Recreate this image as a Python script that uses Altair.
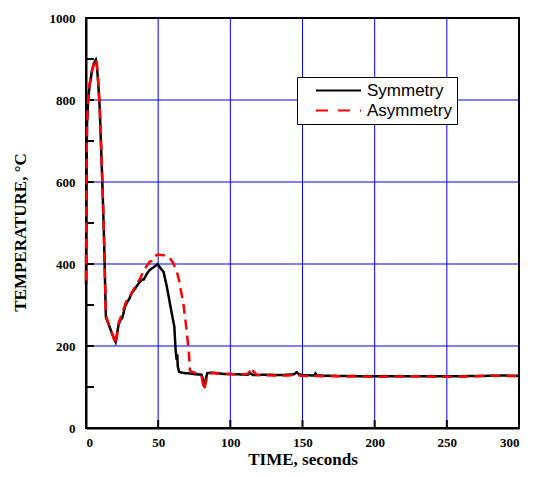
import altair as alt
import pandas as pd

# ---- data ----
sym_t = [0, 0.3, 0.7, 1.5, 2.5, 4, 5.5, 6.8, 7.5, 8.5, 9.5, 10.5, 11.5, 12.5, 13.3, 13.8,
         16, 18, 20.5, 21.5, 22.5, 23.5, 25, 26, 27, 29, 30, 31.5, 33, 35, 37, 39, 40, 42,
         44, 46, 48, 49.5, 51, 52, 53.7, 56, 59.4, 61.2, 62.1, 62.8, 63.2, 63.6, 64.5, 68,
         72, 76, 80, 81, 82, 83, 84, 88, 95, 105, 112, 114, 116, 125, 135, 144, 146, 147.5,
         150, 158, 159, 160, 175, 200, 225, 250, 275, 290, 300]
sym_T = [350, 600, 740, 800, 835, 868, 890, 898, 885, 840, 780, 680, 580, 460, 340, 270,
         250, 230, 210, 230, 250, 262, 268, 280, 296, 310, 315, 328, 335, 345, 355, 362, 362, 375,
         385, 390, 395, 400, 393, 388, 381, 345, 280, 247, 190, 166, 180, 150, 137, 134,
         133, 131, 130, 120, 100, 118, 134, 135, 132, 131, 130, 133, 129, 130, 129, 131, 136, 131,
         129, 128, 133, 128, 127, 126, 126, 126, 127, 128, 127]

asym_t = [0, 0.3, 0.7, 1.5, 2.5, 4, 5.5, 6.8, 7.5, 8.5, 9.5, 10.5, 11.5, 12.5, 13.3, 13.8,
          16, 18, 20.5, 21.5, 22.5, 24, 26, 28, 30, 32, 35, 37.6, 40, 42, 44, 45.6, 47, 50,
          52, 55, 58, 60, 62, 63, 64.5, 65.5, 67.4, 69.7, 71.3, 72, 73, 75.4, 78, 80, 81, 82,
          83, 84.5, 87, 95, 105, 112, 114, 115, 116, 118, 130, 140, 145, 150, 175, 200, 225,
          250, 270, 280, 290, 300]
asym_T = [360, 600, 745, 805, 840, 870, 892, 900, 888, 845, 785, 690, 585, 465, 345, 275,
          250, 232, 205, 225, 255, 270, 290, 310, 320, 332, 350, 365, 385, 395, 405, 408, 418, 423,
          422, 421, 415, 405, 390, 380, 360, 340, 305, 239, 183, 141, 137, 135, 131, 128, 108, 93,
          112, 130, 134, 132, 131, 132, 140, 147, 138, 130, 128, 128, 130, 127, 126, 125, 126,
          125, 126, 128, 127, 126]

series_names = ["Symmetry", "Asymmetry"]
x_labels = [0, 50, 100, 150, 200, 250, 300]
y_labels = [0, 200, 400, 600, 800, 1000]
grid_x = [50, 100, 150, 200, 250]
grid_y = [200, 400, 600, 800]
tick_x = [50, 100, 150, 200, 250]
tick_y = [100, 200, 300, 400, 500, 600, 700, 800, 900]

# ---- tables ----
df_sym = pd.DataFrame({"t": sym_t, "T": sym_T, "series": series_names[0]})
df_asym = pd.DataFrame({"t": asym_t, "T": asym_T, "series": series_names[1]})
df_gx = pd.DataFrame({"g": grid_x})
df_gy = pd.DataFrame({"g": grid_y})
df_tx = pd.DataFrame({"g": tick_x})
df_ty = pd.DataFrame({"g": tick_y})

W, H = 433, 410
SERIF = "Liberation Serif"

xscale = alt.Scale(domain=[0, 300], nice=False, zero=False)
yscale = alt.Scale(domain=[0, 1000], nice=False, zero=False)

xaxis = alt.Axis(values=x_labels, format="d", grid=False, ticks=False, domainColor="black",
                 domainWidth=2, labelFont=SERIF, labelFontWeight="bold", labelFontSize=13,
                 labelColor="black", labelPadding=8, title="TIME, seconds", titleFont=SERIF,
                 titleFontWeight="bold", titleFontSize=17, titleColor="black", titleY=36,
                 titleBaseline="alphabetic")
yaxis = alt.Axis(values=y_labels, format="d", grid=False, ticks=False, domainColor="black",
                 domainWidth=2, labelFont=SERIF, labelFontWeight="bold", labelFontSize=13,
                 labelColor="black", labelPadding=11, title="TEMPERATURE, °C", titleFont=SERIF,
                 titleFontWeight="bold", titleFontSize=17, titleColor="black",
                 titleX=-66, titleY=214, titleAngle=270, titleAlign="center",
                 titleBaseline="middle")

gx = alt.Chart(df_gx).mark_rule(color="#0000ff", strokeWidth=1).encode(
    x=alt.X("g:Q", scale=xscale, axis=xaxis))
gy = alt.Chart(df_gy).mark_rule(color="#0000ff", strokeWidth=1).encode(
    y=alt.Y("g:Q", scale=yscale, axis=yaxis))
tx = alt.Chart(df_tx).mark_rule(color="black", strokeWidth=2).encode(
    x=alt.X("g:Q", scale=xscale), y=alt.value(H), y2=alt.value(H - 8))
ty = alt.Chart(df_ty).mark_rule(color="black", strokeWidth=2).encode(
    y=alt.Y("g:Q", scale=yscale), x=alt.value(0), x2=alt.value(8))

# long legend line drawn with a path wider than its nominal box
legend = alt.Legend(title=None, orient="none", legendX=211, legendY=59, padding=5,
                    symbolType="M-3,0H3", symbolSize=225, symbolOffset=28, labelOffset=20,
                    symbolStrokeWidth=2, fillColor="white", strokeColor="black",
                    labelFont="Liberation Sans", labelFontSize=17, labelColor="black",
                    rowPadding=2)
color = alt.Color("series:N", scale=alt.Scale(domain=series_names, range=["black", "red"]),
                  legend=legend)
dash = alt.StrokeDash("series:N",
                      scale=alt.Scale(domain=series_names, range=[[1, 0], [12, 10]]),
                      legend=legend)

l_sym = alt.Chart(df_sym).mark_line(strokeWidth=2.5).encode(
    x=alt.X("t:Q", scale=xscale), y=alt.Y("T:Q", scale=yscale), color=color, strokeDash=dash,
    order="t:Q")
l_asym = alt.Chart(df_asym).mark_line(strokeWidth=2.5, strokeDash=[10, 6]).encode(
    x=alt.X("t:Q", scale=xscale), y=alt.Y("T:Q", scale=yscale), color=color,
    order="t:Q")

chart = alt.layer(gx, gy, tx, ty, l_sym, l_asym).properties(
    width=W, height=H,
    autosize=alt.AutoSizeParams(type="none"),
    padding={"left": 78, "top": 10, "right": 9, "bottom": 41},
    background="white",
).configure_view(stroke="black", strokeWidth=2)

chart.save("out.html", embed_options={"renderer": "svg", "actions": False})
